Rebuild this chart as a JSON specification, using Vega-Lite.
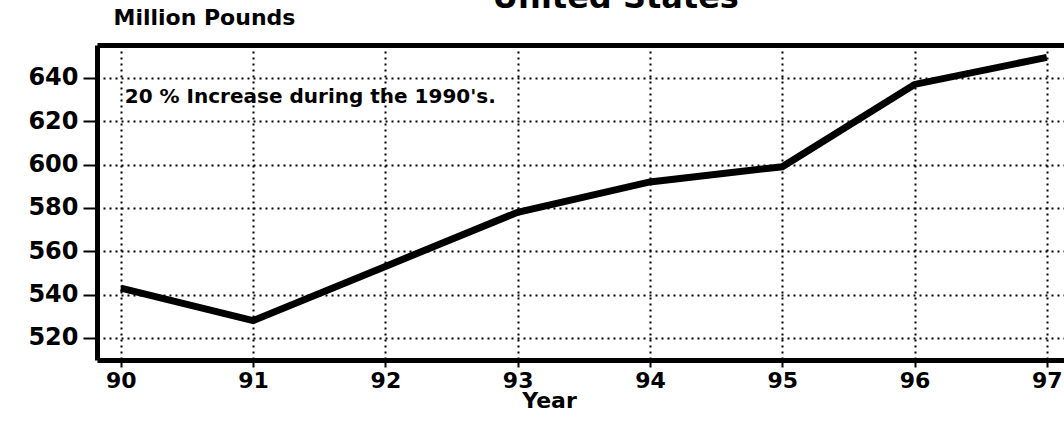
{
  "$schema": "https://vega.github.io/schema/vega-lite/v6.json",
  "width": 967,
  "height": 315,
  "autosize": "none",
  "padding": {"left": 97, "top": 45, "right": 0, "bottom": 61},
  "background": "white",
  "config": {
    "view": {"stroke": null},
    "font": "DejaVu Sans",
    "axis": {
      "labelFont": "DejaVu Sans",
      "labelFontWeight": "bold",
      "labelFontSize": 22,
      "labelColor": "black",
      "titleFont": "DejaVu Sans",
      "titleFontWeight": "bold",
      "titleColor": "black",
      "domainColor": "black",
      "domainWidth": 5,
      "tickColor": "black",
      "tickWidth": 2,
      "gridColor": "black",
      "gridWidth": 2,
      "gridDash": [2, 4]
    }
  },
  "title": {
    "text": "United States",
    "font": "DejaVu Sans",
    "fontSize": 32,
    "fontWeight": "bold",
    "color": "black",
    "anchor": "middle",
    "baseline": "alphabetic",
    "dx": 35,
    "dy": 34,
    "offset": 0
  },
  "data": {
    "values": [
      {"year": 90, "pounds": 543},
      {"year": 91, "pounds": 528},
      {"year": 92, "pounds": 553},
      {"year": 93, "pounds": 578},
      {"year": 94, "pounds": 592},
      {"year": 95, "pounds": 599},
      {"year": 96, "pounds": 637},
      {"year": 97, "pounds": 649.5}
    ]
  },
  "layer": [
    {
      "mark": {"type": "line", "color": "black", "strokeWidth": 7, "clip": true},
      "encoding": {
        "x": {
          "field": "year",
          "type": "quantitative",
          "scale": {"domain": [89.82, 97.13], "nice": false, "zero": false},
          "axis": {
            "values": [90, 91, 92, 93, 94, 95, 96, 97],
            "format": "d",
            "tickSize": 7,
            "labelPadding": 3,
            "title": "Year",
            "titleFontSize": 22,
            "titleX": 452,
            "titleY": 40,
            "titleAnchor": null,
            "titleBaseline": "middle",
            "titleAlign": "center"
          }
        },
        "y": {
          "field": "pounds",
          "type": "quantitative",
          "scale": {"domain": [509.8, 655.2], "nice": false, "zero": false},
          "axis": {
            "values": [520, 530, 540, 550, 560, 570, 580, 590, 600, 610, 620, 630, 640, 650],
            "labelExpr": "datum.value % 20 === 0 ? datum.label : ''",
            "labelFontSize": 24,
            "tickSize": 14,
            "labelPadding": 5,
            "gridOpacity": {"condition": {"test": "datum.value % 20 === 0", "value": 1}, "value": 0},
            "title": "Million Pounds",
            "titleFontSize": 22,
            "titleAngle": 0,
            "titleX": 16,
            "titleY": -28,
            "titleAlign": "left",
            "titleBaseline": "middle",
            "titleAnchor": null
          }
        }
      }
    },
    {
      "data": {"values": [{"year": 90.03, "pounds": 631, "note": "20 % Increase during the 1990's."}]},
      "mark": {"type": "text", "align": "left", "baseline": "middle", "font": "DejaVu Sans", "fontWeight": "bold", "fontSize": 20, "color": "black"},
      "encoding": {
        "x": {
          "field": "year",
          "type": "quantitative",
          "axis": {"orient": "top", "labels": false, "ticks": false, "grid": false, "title": null, "domainWidth": 5}
        },
        "y": {"field": "pounds", "type": "quantitative"},
        "text": {"field": "note"}
      }
    }
  ],
  "resolve": {"axis": {"x": "independent"}}
}
